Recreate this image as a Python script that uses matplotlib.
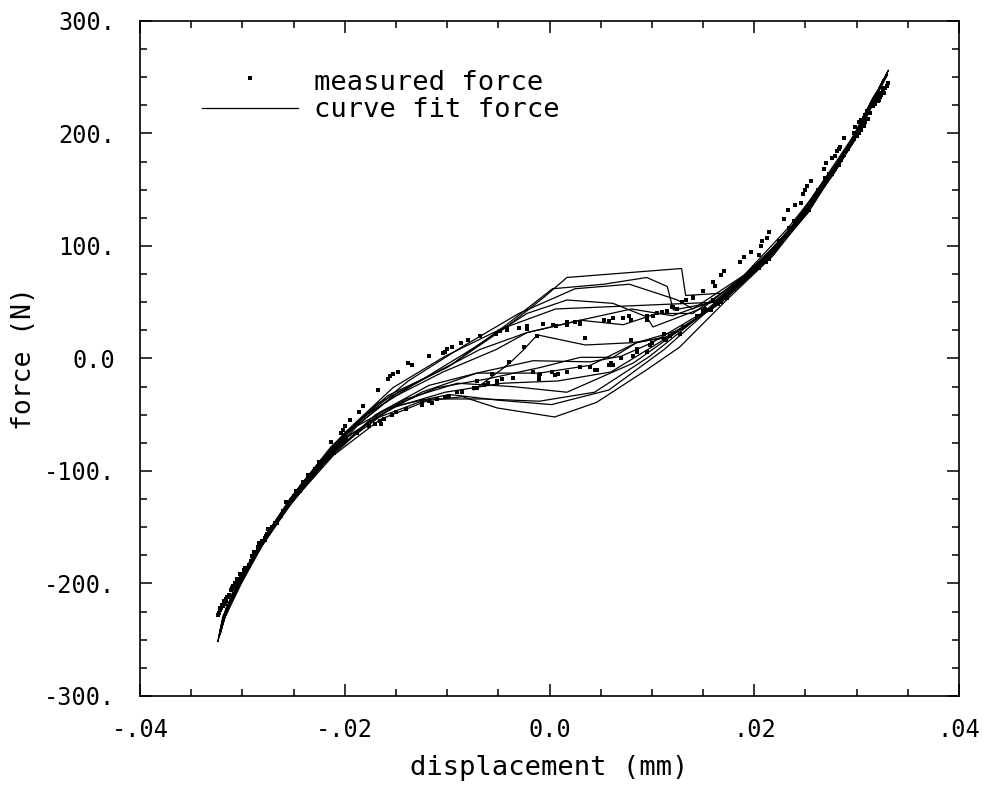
import matplotlib
matplotlib.use("Agg")
import matplotlib.pyplot as plt
from matplotlib.ticker import MultipleLocator

plt.rcParams['font.family'] = ['DejaVu Sans Mono']

# --- sampled cycles: displacement (mm), curve-fit force (N), measured force (N)
disp_1 = [0.0331, 0.0325, 0.0311, 0.0288, 0.0257, 0.0218, 0.0173, 0.0127, 0.0095, 0.0046,
          0.0005, -0.0051, -0.0085, -0.0125, -0.0166, -0.0208, -0.0248, -0.0281, -0.0305, -0.0320,
          -0.0324, -0.0319, -0.0303, -0.0278, -0.0245, -0.0204, -0.0158, -0.0100, -0.0042, -0.0006,
          0.0017, 0.0129, 0.0133, 0.0168, 0.0212, 0.0252, 0.0284, 0.0308, 0.0323, 0.0331]
fit_1 = [256, 246, 221, 180, 136, 91, 52, 10, -10, -39,
         -52, -44, -34, -38, -52, -80, -123, -167, -205, -234,
         -252, -229, -198, -158, -115, -70, -33, -8, 28, 54,
         72, 80, 56, 58, 90, 132, 174, 214, 242, 256]
meas_1 = [245, 236, 213, 181, 140, 94, 54, 22, 6, -10,
          -15, -22, -30, -41, -56, -78, -118, -162, -196, -219,
          -228, -220, -197, -161, -117, -66, -18, 8, 27, 31,
          32, 50, 52, 74, 107, 153, 188, 216, 236, 245]

disp_2 = [0.0328, 0.0321, 0.0304, 0.0279, 0.0246, 0.0205, 0.0158, 0.0112, 0.0058, 0.0002,
          -0.0051, -0.0098, -0.0150, -0.0199, -0.0241, -0.0276, -0.0302, -0.0318, -0.0322, -0.0316,
          -0.0298, -0.0271, -0.0236, -0.0195, -0.0148, -0.0095, -0.0042, 0.0003, 0.0053, 0.0095,
          0.0115, 0.0121, 0.0160, 0.0208, 0.0250, 0.0283, 0.0307, 0.0322, 0.0328]
fit_2 = [250, 238, 209, 170, 126, 82, 45, 8, -28, -41,
         -37, -32, -42, -70, -112, -157, -198, -228, -244, -222,
         -190, -150, -106, -64, -30, -5, 30, 62, 66, 72,
         64, 43, 50, 86, 130, 172, 210, 240, 250]
meas_2 = [240, 229, 203, 168, 127, 80, 43, 17, -6, -12,
          -20, -33, -48, -72, -112, -156, -192, -216, -224, -214,
          -188, -150, -104, -55, -12, 10, 25, 30, 34, 38,
          42, 46, 68, 104, 150, 186, 214, 236, 240]

disp_3 = [0.0326, 0.0316, 0.0297, 0.0269, 0.0234, 0.0192, 0.0144, 0.0082, 0.0017, -0.0036,
          -0.0090, -0.0140, -0.0188, -0.0230, -0.0268, -0.0297, -0.0315, -0.0321, -0.0313, -0.0292,
          -0.0262, -0.0225, -0.0182, -0.0134, -0.0080, -0.0022, 0.0017, 0.0062, 0.0095, 0.0101,
          0.0150, 0.0197, 0.0240, 0.0276, 0.0302, 0.0319, 0.0326]
fit_3 = [246, 232, 198, 160, 114, 72, 36, -4, -30, -25,
         -22, -36, -60, -102, -146, -188, -222, -240, -216, -180,
         -138, -92, -52, -24, 6, 40, 52, 49, 37, 28,
         45, 78, 120, 162, 202, 234, 246]
meas_3 = [238, 224, 195, 160, 116, 72, 38, 2, -12, -17,
          -30, -45, -66, -100, -146, -186, -212, -222, -210, -180,
          -140, -92, -42, -6, 16, 28, 30, 36, 34, 38,
          60, 95, 136, 178, 210, 232, 238]

disp_4 = [0.0324, 0.0313, 0.0292, 0.0262, 0.0224, 0.0180, 0.0130, 0.0085, 0.0040, -0.0010,
          -0.0071, -0.0118, -0.0170, -0.0216, -0.0257, -0.0289, -0.0310, -0.0318, -0.0309, -0.0285,
          -0.0253, -0.0213, -0.0168, -0.0118, -0.0068, -0.0022, 0.0030, 0.0072, 0.0105, 0.0140,
          0.0186, 0.0229, 0.0268, 0.0297, 0.0316, 0.0324]
fit_4 = [243, 226, 188, 150, 100, 60, 26, 14, -6, -13,
         -13, -24, -50, -88, -132, -175, -212, -232, -206, -168,
         -124, -78, -40, -16, 8, 23, 34, 30, 40, 40,
         70, 108, 152, 192, 226, 243]
meas_4 = [234, 218, 186, 150, 104, 62, 28, 8, -8, -16,
          -26, -38, -58, -86, -128, -172, -204, -218, -202, -168,
          -126, -74, -28, 2, 20, 29, 32, 36, 40, 55,
          86, 124, 168, 200, 226, 234]

disp_5 = [0.0322, 0.0308, 0.0285, 0.0253, 0.0214, 0.0168, 0.0118, 0.0085, 0.0062, 0.0030,
          -0.0009, -0.0060, -0.0110, -0.0162, -0.0209, -0.0251, -0.0284, -0.0307, -0.0316, -0.0305,
          -0.0278, -0.0244, -0.0202, -0.0156, -0.0104, -0.0052, -0.0022, 0.0030, 0.0080, 0.0120,
          0.0170, 0.0214, 0.0255, 0.0288, 0.0310, 0.0322]
fit_5 = [238, 216, 178, 130, 88, 50, 20, 14, 1, 1,
         -8, -18, -26, -46, -82, -126, -168, -206, -226, -200,
         -160, -116, -70, -36, -12, 8, 23, 34, 44, 38,
         54, 92, 136, 180, 216, 238]
meas_5 = [230, 210, 176, 132, 88, 50, 20, 6, -6, -8,
          -14, -22, -36, -54, -78, -124, -164, -200, -216, -196,
          -160, -118, -64, -16, 5, 22, 26, 31, 34, 46,
          78, 112, 158, 196, 220, 230]

disp_6 = [-0.0074, -0.0056, -0.0040, -0.0025, -0.0012, 0.0035, 0.0080, 0.0112, 0.0160, 0.0205,
          0.0246, 0.0279, 0.0304, 0.0320, 0.0326, 0.0318, 0.0302, 0.0276, 0.0242, 0.0200,
          0.0152, 0.0100, 0.0070, 0.0040, -0.0016, -0.0071, -0.0125, -0.0176, -0.0221, -0.0260,
          -0.0291, -0.0311, -0.0320]
fit_6 = [-28, -16, -5, 8, 21, 12, 14, 18, 45, 82,
         124, 166, 204, 236, 248, 232, 204, 166, 120, 80,
         42, 14, 2, -3, -2, -13, -30, -56, -94, -138,
         -180, -214, -238]
meas_6 = [-26, -14, -3, 10, 20, 18, 16, 22, 52, 92,
          138, 180, 212, 232, 240, 226, 200, 164, 122, 80,
          44, 14, 0, -8, -12, -20, -38, -60, -90, -136,
          -176, -206, -220]

disp_7 = [0.0330, 0.0323, 0.0307, 0.0283, 0.0251, 0.0211, 0.0165, 0.0114, 0.0060, 0.0008,
          -0.0046, -0.0102, -0.0154, -0.0201, -0.0243, -0.0277, -0.0301, -0.0317, -0.0323, -0.0318,
          -0.0301, -0.0275, -0.0241, -0.0200, -0.0153, -0.0102, -0.0048, 0.0006, 0.0058, 0.0110,
          0.0162, 0.0207, 0.0248, 0.0281, 0.0306, 0.0322, 0.0330]
fit_7 = [252, 242, 212, 174, 130, 86, 48, 18, -12, -20,
         -22, -30, -44, -72, -116, -160, -200, -230, -248, -228,
         -195, -154, -110, -66, -26, 2, 26, 44, 46, 48,
         50, 84, 128, 170, 210, 238, 252]
meas_7 = [242, 232, 207, 172, 132, 86, 48, 16, -4, -14,
          -18, -34, -50, -74, -114, -158, -194, -218, -226, -218,
          -192, -152, -110, -60, -14, 6, 24, 29, 33, 41,
          64, 100, 146, 184, 212, 234, 242]

disp_8 = [0.0327, 0.0318, 0.0300, 0.0273, 0.0239, 0.0197, 0.0150, 0.0098, 0.0044, -0.0010,
          -0.0064, -0.0115, -0.0165, -0.0211, -0.0250, -0.0282, -0.0304, -0.0318, -0.0322, -0.0314,
          -0.0294, -0.0266, -0.0229, -0.0186, -0.0138, -0.0086, -0.0030, 0.0025, 0.0078, 0.0125,
          0.0140, 0.0190, 0.0233, 0.0270, 0.0298, 0.0317, 0.0327]
fit_8 = [248, 234, 202, 162, 120, 76, 40, 2, -30, -38,
         -36, -36, -54, -86, -126, -166, -204, -232, -246, -220,
         -184, -144, -98, -56, -20, 10, 40, 62, 66, 52,
         44, 74, 116, 158, 198, 230, 248]
meas_8 = [236, 226, 198, 164, 122, 76, 42, 12, -10, -18,
          -24, -40, -58, -84, -122, -164, -198, -216, -222, -212,
          -184, -146, -98, -48, -4, 14, 27, 32, 38, 44,
          54, 90, 132, 174, 206, 230, 236]

x_ticks = [-0.04, -0.02, 0.0, 0.02, 0.04]
x_tick_labels = ['-.04', '-.02', '0.0', '.02', '.04']
y_ticks = [-300, -200, -100, 0, 100, 200, 300]
y_tick_labels = ['-300.', '-200.', '-100.', '0.0', '100.', '200.', '300.']

cycles = [(disp_1, fit_1, meas_1), (disp_2, fit_2, meas_2), (disp_3, fit_3, meas_3),
          (disp_4, fit_4, meas_4), (disp_5, fit_5, meas_5), (disp_6, fit_6, meas_6),
          (disp_7, fit_7, meas_7), (disp_8, fit_8, meas_8)]

fig = plt.figure(figsize=(9.91, 7.89), dpi=100)
ax = fig.add_axes([0.1413, 0.1179, 0.8264, 0.8555])

for d, f, m in cycles:
    ax.plot(d, f, color='black', lw=0.9, solid_joinstyle='miter')
    ax.plot(d, m, linestyle='none', marker='s', ms=2.6, mfc='black', mec='black', mew=0)

ax.set_xlim(-0.04, 0.04)
ax.set_ylim(-300, 300)
ax.set_xticks(x_ticks)
ax.set_xticklabels(x_tick_labels)
ax.set_yticks(y_ticks)
ax.set_yticklabels(y_tick_labels)
ax.xaxis.set_minor_locator(MultipleLocator(0.005))
ax.yaxis.set_minor_locator(MultipleLocator(25))
ax.tick_params(which='both', direction='in', top=True, right=True, width=1.1, colors='black')
ax.tick_params(which='major', length=8.5, labelsize=17)
ax.tick_params(which='minor', length=5)
ax.tick_params(axis='x', which='major', pad=16)
ax.tick_params(axis='y', which='major', pad=18)
for s in ax.spines.values():
    s.set_linewidth(1.2)

ax.set_xlabel('displacement (mm)', fontsize=19.5, labelpad=9)
ax.set_ylabel('force (N)', fontsize=19, labelpad=5)

# key in the upper left corner
ax.plot([0.1343], [0.915], transform=ax.transAxes, linestyle='none', marker='s', ms=2.6,
        mfc='black', mec='black', mew=0)
ax.text(0.212, 0.898, 'measured force', transform=ax.transAxes, fontsize=19.5, va='baseline')
ax.plot([0.0757, 0.1929], [0.8711, 0.8711], transform=ax.transAxes, color='black', lw=0.9)
ax.text(0.212, 0.858, 'curve fit force', transform=ax.transAxes, fontsize=19.5, va='baseline')

fig.savefig('out.png', dpi=100)
